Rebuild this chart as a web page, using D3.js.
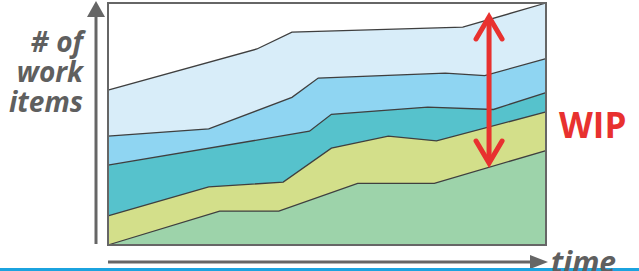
<!DOCTYPE html>
<html>
  <head>
    <meta charset="utf-8">
    <title>WIP</title>
    <script src="https://d3js.org/d3.v7.min.js"></script>
    <style type="text/css">
      html, body { margin: 0; padding: 0; background: #fff; }
      svg { display: block; }
    </style>
  </head>
  <body>
    <script type="text/javascript">

      // boundary lines of the bands, top to bottom: [time, items]
      var line1 = [[0, 64], [34, 81], [42, 88], [81, 90], [100, 100]];
      var line2 = [[0, 45], [23, 48], [42, 61], [48, 69], [77, 71], [86, 70], [100, 77]];
      var line3 = [[0, 33], [46, 47], [51, 54], [73, 57], [88, 56], [100, 63]];
      var line4 = [[0, 12], [23, 24], [40, 26], [51, 40], [64, 45], [75, 43], [100, 55]];
      var line5 = [[0, 0], [25.5, 14], [39, 14], [57, 25.5], [74.5, 25.5], [100, 39]];
      var bandColors = ["#d8edf9", "#8fd5f2", "#56c2cc", "#d3df8a", "#9dd3aa"];
      var yLabel = ["# of", "work", "items"];
      var xLabel = "time";
      var wipLabel = "WIP";
      var wipTime = 87; // where the WIP arrow stands

      var width = 639;
      var height = 271;
      var svg = d3.select("body")
          .append("svg")
          .attr("width", width)
          .attr("height", height);

      // plot box
      var x = d3.scaleLinear().domain([0, 100]).range([108, 546]);
      var y = d3.scaleLinear().domain([0, 100]).range([245, 3]);

      var area = d3.area()
          .x(function(d) { return x(d[0]); })
          .y0(y(0))
          .y1(function(d) { return y(d[1]); });
      var line = d3.line()
          .x(function(d) { return x(d[0]); })
          .y(function(d) { return y(d[1]); });

      var lines = [line1, line2, line3, line4, line5];

      // areas down to the baseline, top band first so lower ones cover it
      svg.selectAll("path.band")
          .data(lines)
          .enter().append("path")
          .attr("class", "band")
          .attr("d", area)
          .style("fill", function(d, i) { return bandColors[i]; });

      svg.selectAll("path.edge")
          .data(lines)
          .enter().append("path")
          .attr("class", "edge")
          .attr("d", line)
          .style("fill", "none")
          .style("stroke", "#3f3f3f")
          .style("stroke-width", 1.3);

      // frame
      svg.append("rect")
          .attr("x", x(0))
          .attr("y", y(100))
          .attr("width", x(100) - x(0))
          .attr("height", y(0) - y(100))
          .style("fill", "none")
          .style("stroke", "#666")
          .style("stroke-width", 2);

      // axis arrows
      svg.append("line")
          .attr("x1", 96).attr("y1", y(0) - 1)
          .attr("x2", 96).attr("y2", 14)
          .style("stroke", "#666").style("stroke-width", 3);
      svg.append("path")
          .attr("d", "M96,1 L87,17 L105,17 Z")
          .style("fill", "#666");

      svg.append("line")
          .attr("x1", x(0)).attr("y1", 262)
          .attr("x2", 533).attr("y2", 262)
          .style("stroke", "#666").style("stroke-width", 3);
      svg.append("path")
          .attr("d", "M548,262 L530,255 L530,269 Z")
          .style("fill", "#666");

      // blue rule along the bottom
      svg.append("rect")
          .attr("x", 0).attr("y", 268)
          .attr("width", width).attr("height", 3)
          .style("fill", "#1ba3df");

      // labels
      svg.append("text")
          .attr("text-anchor", "end")
          .style("font-family", "'Open Sans', sans-serif")
          .style("font-weight", "bold")
          .style("font-style", "italic")
          .style("font-size", "28px")
          .style("fill", "#5f5f5f")
          .selectAll("tspan")
          .data(yLabel)
          .enter().append("tspan")
          .attr("x", 83)
          .attr("y", function(d, i) { return 52 + i * 30; })
          .text(function(d) { return d; });

      svg.append("text")
          .attr("x", 551)
          .attr("y", 273)
          .style("font-family", "'Open Sans', sans-serif")
          .style("font-weight", "bold")
          .style("font-style", "italic")
          .style("font-size", "30px")
          .style("fill", "#5f5f5f")
          .text(xLabel);

      // WIP arrow between top line and the done line
      var wipTop = 17, wipBottom = 163, wx = x(wipTime);
      var red = "#e8312f";
      svg.append("line")
          .attr("x1", wx).attr("y1", wipTop + 2)
          .attr("x2", wx).attr("y2", wipBottom - 2)
          .style("stroke", red).style("stroke-width", 5);
      svg.append("path")
          .attr("d", "M" + (wx - 13) + "," + (wipTop + 22) + " L" + wx + "," + wipTop + " L" + (wx + 13) + "," + (wipTop + 22))
          .style("fill", "none").style("stroke", red).style("stroke-width", 5)
          .style("stroke-linecap", "round");
      svg.append("path")
          .attr("d", "M" + (wx - 13) + "," + (wipBottom - 22) + " L" + wx + "," + wipBottom + " L" + (wx + 13) + "," + (wipBottom - 22))
          .style("fill", "none").style("stroke", red).style("stroke-width", 5)
          .style("stroke-linecap", "round");

      svg.append("text")
          .attr("x", 559)
          .attr("y", 138)
          .style("font-family", "'Open Sans', sans-serif")
          .style("font-weight", "bold")
          .style("font-size", "35px")
          .style("fill", red)
          .text(wipLabel);

    </script>
  </body>
</html>
